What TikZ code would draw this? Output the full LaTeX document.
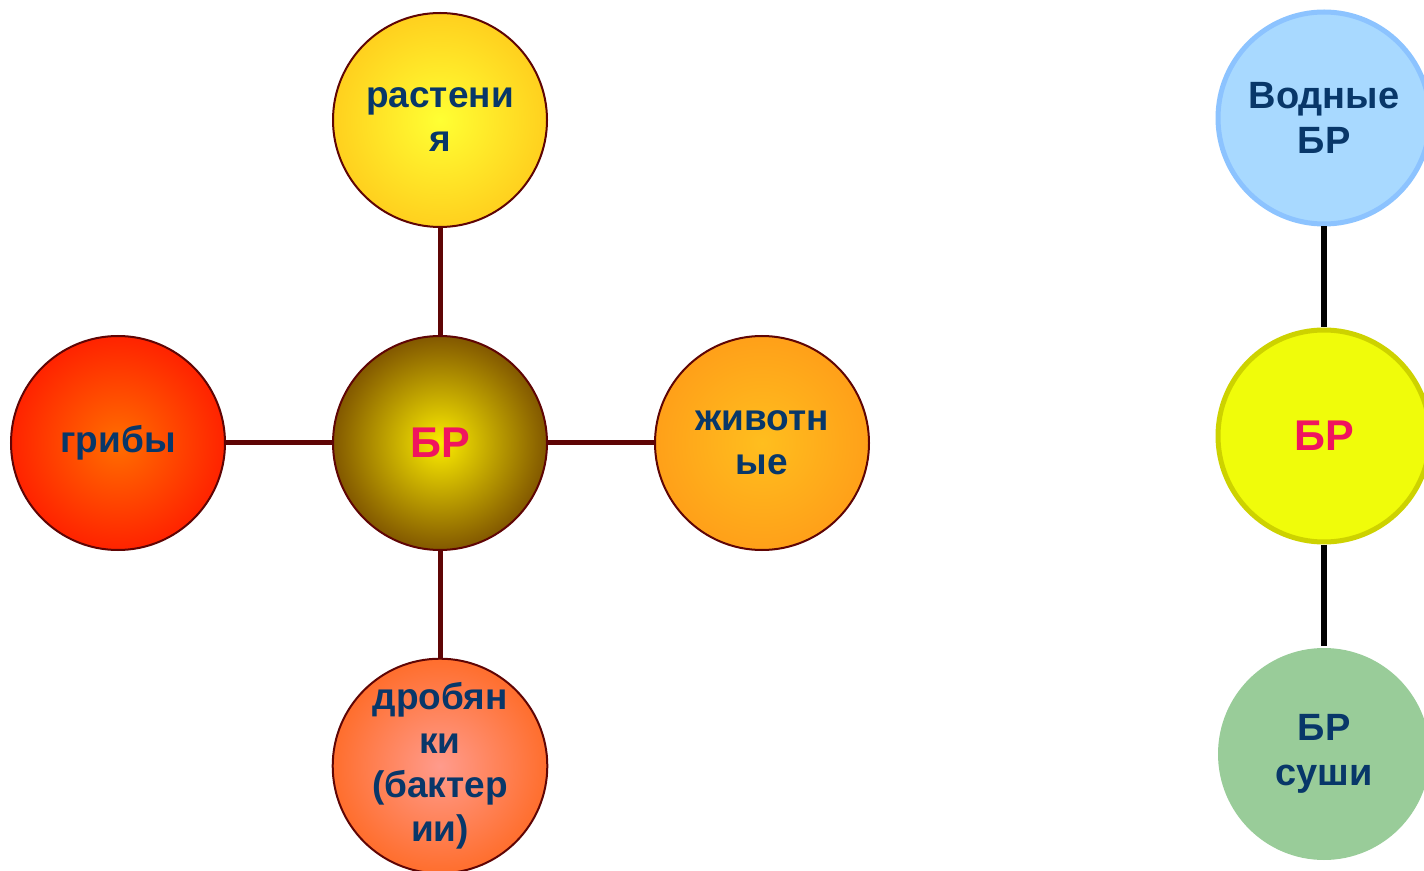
\documentclass[tikz,border=0pt]{standalone}
\usepackage{fontspec}
\setmainfont{Liberation Sans}
\definecolor{txtblue}{RGB}{8,55,105}
\definecolor{brpink}{RGB}{240,20,95}
\definecolor{edgebrown}{RGB}{95,5,5}

\begin{document}
\begin{tikzpicture}[x=0.5pt,y=-0.5pt,
  ball/.style={circle,draw=edgebrown,line width=1pt,minimum size=107pt,inner sep=0pt,
    align=center,text=txtblue,font=\fontsize{18.5}{22}\selectfont\bfseries,shading=radial},
  bigball/.style={circle,line width=2.5pt,minimum size=106pt,inner sep=0pt,
    align=center,text=txtblue,font=\fontsize{19}{22.5}\selectfont\bfseries},
  link/.style={edgebrown,line width=2.5pt},
  vlink/.style={black,line width=3pt}]
\useasboundingbox (0,0) rectangle (1424,871);
% left: kingdoms
\node[ball,inner color=yellow!80!white,outer color={rgb,255:red,255;green,208;blue,30}] (rast) at (440,120) {растени\\я};
\node[ball,inner color={rgb,255:red,255;green,110;blue,0},outer color={rgb,255:red,255;green,35;blue,0}] (grib) at (118,443) {грибы};
\node[ball,inner color={rgb,255:red,255;green,190;blue,30},outer color={rgb,255:red,255;green,160;blue,25}] (zhiv) at (762,443) {животн\\ые};
\node[ball,inner color={rgb,255:red,255;green,155;blue,140},outer color={rgb,255:red,255;green,110;blue,45}] (drob) at (440,766) {дробян\\ки\\(бактер\\ии)};
\node[ball,inner color={rgb,255:red,250;green,235;blue,0},outer color={rgb,255:red,130;green,88;blue,0},
  text=brpink,font=\fontsize{21.5}{24}\selectfont\bfseries] (br) at (440,443) {БР};
\draw[link] (br) -- (rast);
\draw[link] (br) -- (grib);
\draw[link] (br) -- (zhiv);
\draw[link] (br) -- (drob);
% right: water and land
\node[bigball,fill={rgb,255:red,168;green,217;blue,255},draw={rgb,255:red,140;green,195;blue,255}] (vod) at (1324,118) {Водные\\БР};
\node[bigball,fill={rgb,255:red,240;green,252;blue,10},draw={rgb,255:red,205;green,210;blue,0},
  text=brpink,font=\fontsize{21.5}{24}\selectfont\bfseries] (brr) at (1324,436) {БР};
\node[bigball,fill={rgb,255:red,153;green,204;blue,153}] (sush) at (1324,754) {БР\\суши};
\draw[vlink] (vod) -- (brr);
\draw[vlink] (brr) -- (sush);
\end{tikzpicture}
\end{document}
